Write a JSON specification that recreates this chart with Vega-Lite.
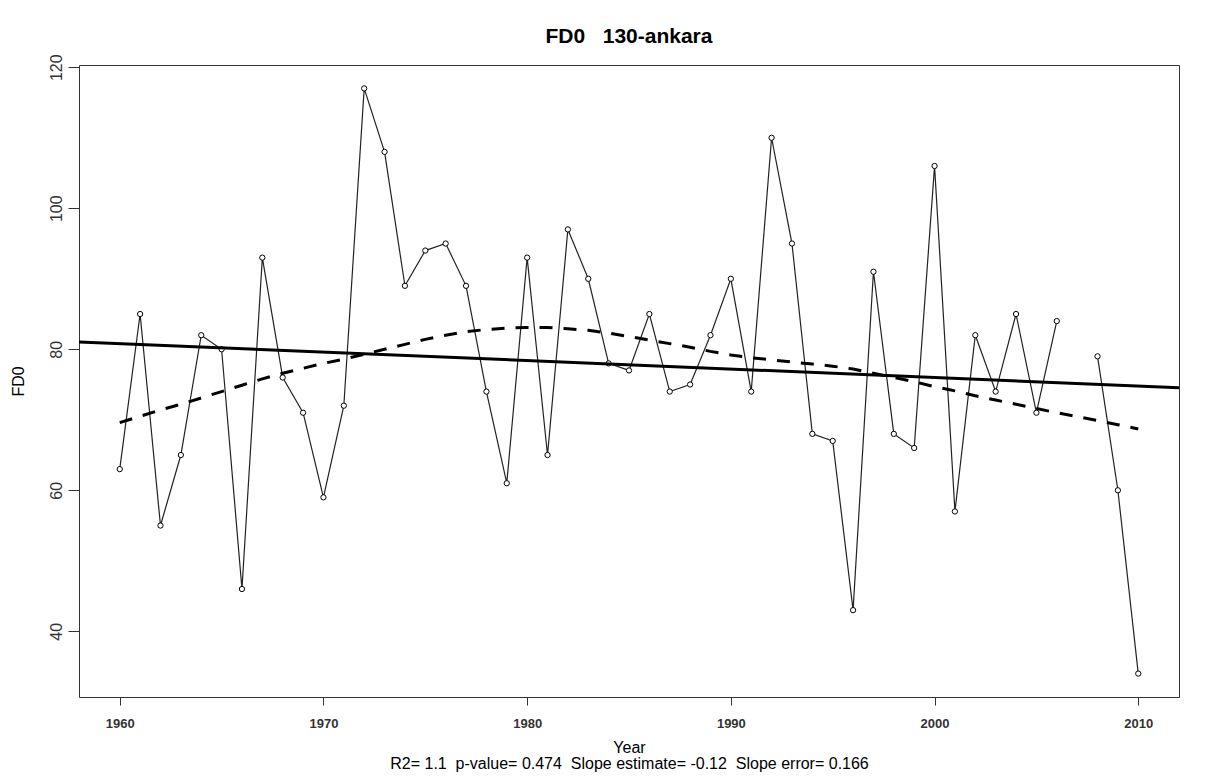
{
  "$schema": "https://vega.github.io/schema/vega-lite/v6.json",
  "autosize": {"type": "none"},
  "width": 1100,
  "height": 632,
  "padding": {"left": 79, "top": 65, "right": 42, "bottom": 79},
  "background": "white",
  "title": {
    "text": "FD0\u00a0\u00a0\u00a0130-ankara",
    "font": "Liberation Sans",
    "fontSize": 21,
    "fontWeight": "bold",
    "color": "black",
    "anchor": "middle",
    "frame": "group",
    "baseline": "alphabetic",
    "offset": -10
  },
  "config": {
    "view": {"stroke": "#333", "strokeWidth": 1},
    "font": "Liberation Sans",
    "axis": {"grid": false, "domain": false}
  },
  "datasets": {
    "obs": [
      {"Year": 1960, "FD0": 63}, {"Year": 1961, "FD0": 85}, {"Year": 1962, "FD0": 55},
      {"Year": 1963, "FD0": 65}, {"Year": 1964, "FD0": 82}, {"Year": 1965, "FD0": 80},
      {"Year": 1966, "FD0": 46}, {"Year": 1967, "FD0": 93}, {"Year": 1968, "FD0": 76},
      {"Year": 1969, "FD0": 71}, {"Year": 1970, "FD0": 59}, {"Year": 1971, "FD0": 72},
      {"Year": 1972, "FD0": 117}, {"Year": 1973, "FD0": 108}, {"Year": 1974, "FD0": 89},
      {"Year": 1975, "FD0": 94}, {"Year": 1976, "FD0": 95}, {"Year": 1977, "FD0": 89},
      {"Year": 1978, "FD0": 74}, {"Year": 1979, "FD0": 61}, {"Year": 1980, "FD0": 93},
      {"Year": 1981, "FD0": 65}, {"Year": 1982, "FD0": 97}, {"Year": 1983, "FD0": 90},
      {"Year": 1984, "FD0": 78}, {"Year": 1985, "FD0": 77}, {"Year": 1986, "FD0": 85},
      {"Year": 1987, "FD0": 74}, {"Year": 1988, "FD0": 75}, {"Year": 1989, "FD0": 82},
      {"Year": 1990, "FD0": 90}, {"Year": 1991, "FD0": 74}, {"Year": 1992, "FD0": 110},
      {"Year": 1993, "FD0": 95}, {"Year": 1994, "FD0": 68}, {"Year": 1995, "FD0": 67},
      {"Year": 1996, "FD0": 43}, {"Year": 1997, "FD0": 91}, {"Year": 1998, "FD0": 68},
      {"Year": 1999, "FD0": 66}, {"Year": 2000, "FD0": 106}, {"Year": 2001, "FD0": 57},
      {"Year": 2002, "FD0": 82}, {"Year": 2003, "FD0": 74}, {"Year": 2004, "FD0": 85},
      {"Year": 2005, "FD0": 71}, {"Year": 2006, "FD0": 84}, {"Year": 2007, "FD0": null},
      {"Year": 2008, "FD0": 79}, {"Year": 2009, "FD0": 60}, {"Year": 2010, "FD0": 34}
    ],
    "trend": [
      {"Year": 1958, "FD0": 81.04},
      {"Year": 2012, "FD0": 74.55}
    ],
    "smooth": [
      {"Year": 1960, "FD0": 69.6}, {"Year": 1961, "FD0": 70.5}, {"Year": 1962, "FD0": 71.4},
      {"Year": 1963, "FD0": 72.2}, {"Year": 1964, "FD0": 73.1}, {"Year": 1965, "FD0": 74.0},
      {"Year": 1966, "FD0": 74.9}, {"Year": 1967, "FD0": 75.8}, {"Year": 1968, "FD0": 76.6},
      {"Year": 1969, "FD0": 77.3}, {"Year": 1970, "FD0": 78.0}, {"Year": 1971, "FD0": 78.6},
      {"Year": 1972, "FD0": 79.3}, {"Year": 1973, "FD0": 80.0}, {"Year": 1974, "FD0": 80.7},
      {"Year": 1975, "FD0": 81.4}, {"Year": 1976, "FD0": 82.0}, {"Year": 1977, "FD0": 82.5},
      {"Year": 1978, "FD0": 82.8}, {"Year": 1979, "FD0": 83.0}, {"Year": 1980, "FD0": 83.1},
      {"Year": 1981, "FD0": 83.1}, {"Year": 1982, "FD0": 82.9}, {"Year": 1983, "FD0": 82.7},
      {"Year": 1984, "FD0": 82.3}, {"Year": 1985, "FD0": 81.8}, {"Year": 1986, "FD0": 81.3},
      {"Year": 1987, "FD0": 80.8}, {"Year": 1988, "FD0": 80.3}, {"Year": 1989, "FD0": 79.7},
      {"Year": 1990, "FD0": 79.2}, {"Year": 1991, "FD0": 78.8}, {"Year": 1992, "FD0": 78.5},
      {"Year": 1993, "FD0": 78.2}, {"Year": 1994, "FD0": 77.9}, {"Year": 1995, "FD0": 77.6},
      {"Year": 1996, "FD0": 77.2}, {"Year": 1997, "FD0": 76.6}, {"Year": 1998, "FD0": 76.0},
      {"Year": 1999, "FD0": 75.4}, {"Year": 2000, "FD0": 74.7}, {"Year": 2001, "FD0": 74.1},
      {"Year": 2002, "FD0": 73.4}, {"Year": 2003, "FD0": 72.8}, {"Year": 2004, "FD0": 72.2},
      {"Year": 2005, "FD0": 71.6}, {"Year": 2006, "FD0": 71.0}, {"Year": 2008, "FD0": 69.9},
      {"Year": 2009, "FD0": 69.3}, {"Year": 2010, "FD0": 68.7}
    ]
  },
  "encoding": {
    "x": {
      "field": "Year",
      "type": "quantitative",
      "scale": {"domain": [1958, 2012], "nice": false, "zero": false},
      "axis": {
        "values": [1960, 1970, 1980, 1990, 2000, 2010],
        "format": "d",
        "tickSize": 8,
        "tickColor": "#333",
        "labelPadding": 12,
        "labelFontSize": 13,
        "labelFontWeight": "bold",
        "labelColor": "#333",
        "title": ["Year", "R2= 1.1\u00a0\u00a0p-value= 0.474\u00a0\u00a0Slope estimate= -0.12\u00a0\u00a0Slope error= 0.166"],
        "titleFontSize": 16,
        "titleFontWeight": "normal",
        "titleColor": "black",
        "titleLineHeight": 16,
        "titlePadding": 9
      }
    },
    "y": {
      "field": "FD0",
      "type": "quantitative",
      "scale": {"domain": [30.68, 120.32], "nice": false, "zero": false},
      "axis": {
        "values": [40, 60, 80, 100, 120],
        "tickSize": 11,
        "tickColor": "#333",
        "labelAngle": -90,
        "labelAlign": "center",
        "labelBaseline": "alphabetic",
        "labelPadding": 7,
        "labelFontSize": 16,
        "labelColor": "#333",
        "title": "FD0",
        "titleFontSize": 16,
        "titleFontWeight": "normal",
        "titleColor": "black",
        "titlePadding": 22
      }
    }
  },
  "layer": [
    {
      "data": {"name": "obs"},
      "mark": {"type": "line", "color": "#222", "strokeWidth": 1.2, "invalid": "break-paths-show-domains"}
    },
    {
      "data": {"name": "obs"},
      "mark": {"type": "point", "shape": "circle", "filled": true, "fill": "white", "stroke": "black", "strokeWidth": 1, "size": 28, "opacity": 1}
    },
    {
      "data": {"name": "trend"},
      "mark": {"type": "line", "color": "black", "strokeWidth": 3, "clip": true}
    },
    {
      "data": {"name": "smooth"},
      "mark": {"type": "line", "color": "black", "strokeWidth": 3, "strokeDash": [13, 11]}
    }
  ]
}
